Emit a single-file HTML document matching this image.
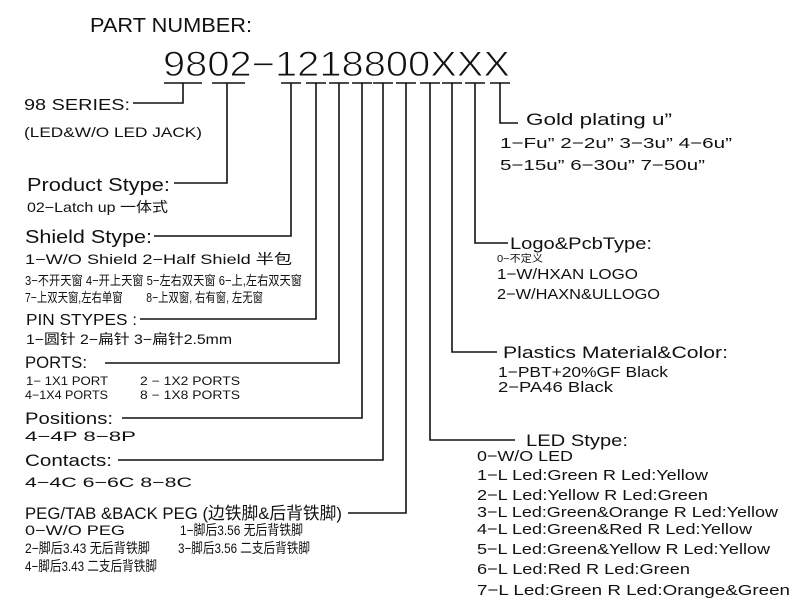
<!DOCTYPE html>
<html><head><meta charset="utf-8"><style>
html,body{margin:0;padding:0;background:#fff;}
svg{display:block;}
text{font-family:"Liberation Sans","Noto Sans CJK SC",sans-serif;fill:#111;}
</style></head><body>
<svg width="800" height="610" viewBox="0 0 800 610" xmlns="http://www.w3.org/2000/svg">
<g stroke="#111" stroke-width="1.6" fill="none">
<line x1="164" y1="83" x2="202" y2="83"/>
<line x1="212" y1="83" x2="245" y2="83"/>
<line x1="281" y1="83" x2="301" y2="83"/>
<line x1="306" y1="83" x2="326" y2="83"/>
<line x1="329" y1="83" x2="349" y2="83"/>
<line x1="352" y1="83" x2="372" y2="83"/>
<line x1="373" y1="83" x2="393" y2="83"/>
<line x1="396" y1="83" x2="416" y2="83"/>
<line x1="420" y1="83" x2="440" y2="83"/>
<line x1="442" y1="83" x2="462" y2="83"/>
<line x1="465" y1="83" x2="485" y2="83"/>
<line x1="490" y1="83" x2="510" y2="83"/>
<polyline points="183,83 183,103 133,103"/>
<polyline points="227,83 227,183 174,183"/>
<polyline points="291,83 291,236 154,236"/>
<polyline points="316,83 316,319 140,319"/>
<polyline points="339,83 339,363 105,363"/>
<polyline points="362,83 362,418 122,418"/>
<polyline points="383,83 383,460 118,460"/>
<polyline points="406,83 406,513 348,513"/>
<polyline points="430,83 430,440 515,440"/>
<polyline points="452,83 452,352 497,352"/>
<polyline points="475,83 475,243 508,243"/>
<polyline points="500,83 500,123 518,123"/>
</g>
<text x="90" y="32" font-size="20" textLength="162" lengthAdjust="spacingAndGlyphs">PART NUMBER:</text>
<text x="163" y="76" font-size="35" textLength="347" lengthAdjust="spacingAndGlyphs" stroke="#fff" stroke-width="0.9" paint-order="normal">9802−1218800XXX</text>
<text x="24" y="110" font-size="16" textLength="106" lengthAdjust="spacingAndGlyphs">98 SERIES:</text>
<text x="24" y="137" font-size="14" textLength="178" lengthAdjust="spacingAndGlyphs">(LED&amp;W/O LED JACK)</text>
<text x="27" y="191" font-size="18" textLength="143" lengthAdjust="spacingAndGlyphs">Product Stype:</text>
<text x="27" y="212" font-size="14" textLength="141" lengthAdjust="spacingAndGlyphs">02−Latch up 一体式</text>
<text x="25" y="243" font-size="18" textLength="127" lengthAdjust="spacingAndGlyphs">Shield Stype:</text>
<text x="25" y="264" font-size="14" textLength="267" lengthAdjust="spacingAndGlyphs">1−W/O Shield 2−Half Shield 半包</text>
<text x="25" y="285" font-size="13" textLength="277" lengthAdjust="spacingAndGlyphs">3−不开天窗 4−开上天窗 5−左右双天窗 6−上,左右双天窗</text>
<text x="25" y="302" font-size="13" textLength="238" lengthAdjust="spacingAndGlyphs">7−上双天窗,左右单窗　　 8−上双窗, 右有窗, 左无窗</text>
<text x="26" y="325" font-size="16" textLength="111" lengthAdjust="spacingAndGlyphs">PIN STYPES :</text>
<text x="26" y="344" font-size="14" textLength="206" lengthAdjust="spacingAndGlyphs">1−圆针  2−扁针  3−扁针2.5mm</text>
<text x="25" y="368" font-size="17" textLength="62" lengthAdjust="spacingAndGlyphs">PORTS:</text>
<text x="26" y="385" font-size="11.5" textLength="82" lengthAdjust="spacingAndGlyphs">1− 1X1 PORT</text>
<text x="140" y="385" font-size="11.5" textLength="100" lengthAdjust="spacingAndGlyphs">2 − 1X2 PORTS</text>
<text x="25" y="399" font-size="11.5" textLength="83" lengthAdjust="spacingAndGlyphs">4−1X4 PORTS</text>
<text x="140" y="399" font-size="11.5" textLength="100" lengthAdjust="spacingAndGlyphs">8 − 1X8 PORTS</text>
<text x="25" y="424" font-size="17" textLength="88" lengthAdjust="spacingAndGlyphs">Positions:</text>
<text x="25" y="441" font-size="14" textLength="111" lengthAdjust="spacingAndGlyphs">4−4P  8−8P</text>
<text x="25" y="466" font-size="17" textLength="87" lengthAdjust="spacingAndGlyphs">Contacts:</text>
<text x="25" y="487" font-size="14" textLength="167" lengthAdjust="spacingAndGlyphs">4−4C 6−6C 8−8C</text>
<text x="25" y="519" font-size="17" textLength="317" lengthAdjust="spacingAndGlyphs">PEG/TAB &amp;BACK PEG (边铁脚&amp;后背铁脚)</text>
<text x="25" y="535" font-size="14" textLength="100" lengthAdjust="spacingAndGlyphs">0−W/O PEG</text>
<text x="180" y="535" font-size="14" textLength="123" lengthAdjust="spacingAndGlyphs">1−脚后3.56 无后背铁脚</text>
<text x="25" y="553" font-size="14" textLength="125" lengthAdjust="spacingAndGlyphs">2−脚后3.43 无后背铁脚</text>
<text x="178" y="553" font-size="14" textLength="132" lengthAdjust="spacingAndGlyphs">3−脚后3.56 二支后背铁脚</text>
<text x="25" y="571" font-size="14" textLength="132" lengthAdjust="spacingAndGlyphs">4−脚后3.43 二支后背铁脚</text>
<text x="526" y="125" font-size="17" textLength="146" lengthAdjust="spacingAndGlyphs">Gold plating u”</text>
<text x="500" y="148" font-size="15" textLength="232" lengthAdjust="spacingAndGlyphs">1−Fu” 2−2u” 3−3u” 4−6u”</text>
<text x="500" y="170" font-size="15" textLength="205" lengthAdjust="spacingAndGlyphs">5−15u” 6−30u” 7−50u”</text>
<text x="510" y="249" font-size="17" textLength="142" lengthAdjust="spacingAndGlyphs">Logo&amp;PcbType:</text>
<text x="497" y="262" font-size="10" textLength="46" lengthAdjust="spacingAndGlyphs">0−不定义</text>
<text x="497" y="279" font-size="15" textLength="141" lengthAdjust="spacingAndGlyphs">1−W/HXAN LOGO</text>
<text x="497" y="299" font-size="15" textLength="163" lengthAdjust="spacingAndGlyphs">2−W/HAXN&amp;ULLOGO</text>
<text x="503" y="358" font-size="17" textLength="225" lengthAdjust="spacingAndGlyphs">Plastics Material&amp;Color:</text>
<text x="498" y="377" font-size="15" textLength="170" lengthAdjust="spacingAndGlyphs">1−PBT+20%GF Black</text>
<text x="498" y="392" font-size="15" textLength="115" lengthAdjust="spacingAndGlyphs">2−PA46 Black</text>
<text x="526" y="446" font-size="17" textLength="102" lengthAdjust="spacingAndGlyphs">LED Stype:</text>
<text x="477" y="461" font-size="15" textLength="96" lengthAdjust="spacingAndGlyphs">0−W/O LED</text>
<text x="477" y="480" font-size="15" textLength="231" lengthAdjust="spacingAndGlyphs">1−L Led:Green R Led:Yellow</text>
<text x="477" y="500" font-size="15" textLength="231" lengthAdjust="spacingAndGlyphs">2−L Led:Yellow R Led:Green</text>
<text x="477" y="517" font-size="15" textLength="301" lengthAdjust="spacingAndGlyphs">3−L Led:Green&amp;Orange R Led:Yellow</text>
<text x="477" y="534" font-size="15" textLength="275" lengthAdjust="spacingAndGlyphs">4−L Led:Green&amp;Red R Led:Yellow</text>
<text x="477" y="554" font-size="15" textLength="293" lengthAdjust="spacingAndGlyphs">5−L Led:Green&amp;Yellow R Led:Yellow</text>
<text x="477" y="574" font-size="15" textLength="213" lengthAdjust="spacingAndGlyphs">6−L Led:Red R Led:Green</text>
<text x="477" y="595" font-size="15" textLength="313" lengthAdjust="spacingAndGlyphs">7−L Led:Green R Led:Orange&amp;Green</text>
</svg>
</body></html>
